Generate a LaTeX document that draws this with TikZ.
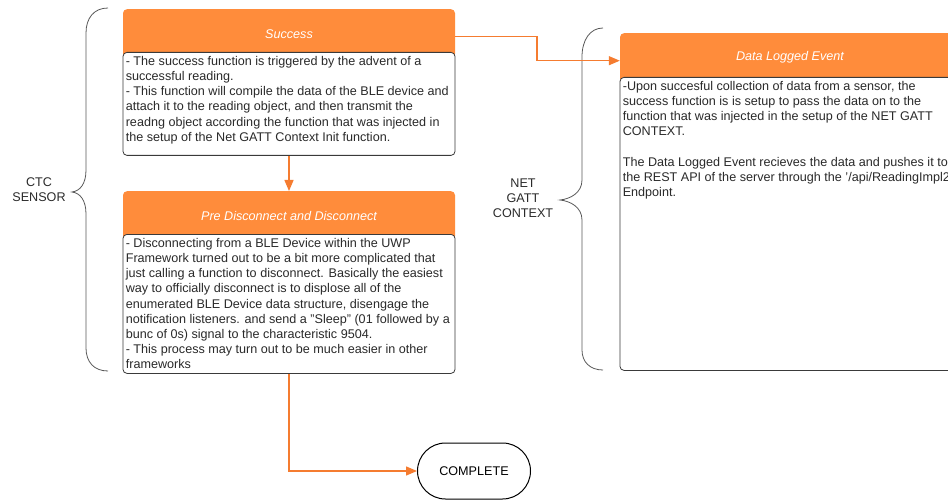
\documentclass[tikz,border=0pt]{standalone}
\usepackage{fontspec}
\setmainfont{Liberation Sans}
\usetikzlibrary{arrows.meta,positioning}
\definecolor{headorange}{HTML}{FF8C3B}
\definecolor{linkorange}{HTML}{F57C30}
\definecolor{boxgray}{HTML}{3A3A3A}
\definecolor{textgray}{HTML}{2A2A2A}
\tikzset{
	headbox/.style={fill=headorange, rounded corners=4pt, minimum width=332pt, minimum height=49pt, inner sep=0pt, text=white, font=\fontsize{12.6}{15.2}\selectfont\itshape, anchor=north},
	bodybox/.style={draw=boxgray, fill=white, line width=0.8pt, rounded corners=4pt, minimum width=332pt, inner sep=0pt, anchor=north},
	bodytext/.style={text=textgray, align=left, anchor=north west, inner xsep=3pt, inner ysep=4pt, font=\fontsize{12.6}{15.2}\selectfont},
	sidelabel/.style={text=textgray, align=center, font=\fontsize{12.6}{15}\selectfont},
	bracket/.style={draw=boxgray!85, line width=0.8pt},
	link/.style={draw=linkorange, line width=1.3pt, -{Triangle[length=11pt,width=9pt]}},
	endbox/.style={draw=black, line width=1pt, rounded corners=28pt, minimum width=113pt, minimum height=56pt, font=\fontsize{12.6}{15}\selectfont}
}

\begin{document}
\begin{tikzpicture}[x=1pt, y=-1pt]
			%%%%% START %%%%%
			\useasboundingbox (0, 0) rectangle (948, 500);
			
			% sensor side
			\node[headbox] (succhead) at (289, 9) {Success};
			\node[bodybox, minimum height=103pt] (succbody) at (289, 52) {};
			\node[bodytext] (succtext) at (succbody.north west) {- The success function is triggered by the advent of a\\successful reading.\\- This function will compile the data of the BLE device and\\attach it to the reading object, and then transmit the\\readng object according the function that was injected in\\the setup of the Net GATT Context Init function.};
			
			\node[headbox] (prehead) at (289, 191) {Pre Disconnect and Disconnect};
			\node[bodybox, minimum height=139pt] (prebody) at (289, 234) {};
			\node[bodytext] (pretext) at (prebody.north west) {- Disconnecting from a BLE Device within the UWP\\Framework turned out to be a bit more complicated that\\just calling a function to disconnect. Basically the easiest\\way to officially disconnect is to displose all of the\\enumerated BLE Device data structure, disengage the\\notification listeners. and send a {\char"22}Sleep{\char"22} (01 followed by a\\bunc of 0s) signal to the characteristic 9504.\\- This process may turn out to be much easier in other\\frameworks};
			
			\node[endbox] (done) at (474, 471) {COMPLETE};
			
			% context side
			\node[headbox, minimum width=340pt] (datahead) at (790, 33) {Data Logged Event};
			\node[bodybox, minimum width=340pt, minimum height=293pt] (databody) at (790, 77) {};
			\node[bodytext] (datatext) at (databody.north west) {-Upon succesful collection of data from a sensor, the\\success function is is setup to pass the data on to the\\function that was injected in the setup of the NET GATT\\CONTEXT.\\[15.2pt]The Data Logged Event recieves the data and pushes it to\\the REST API of the server through the {\char"27}/api/ReadingImpl2{\char"27}\\Endpoint.};
			
			% braces
			\draw[bracket] (108, 8) .. controls (94, 8) and (86, 18) .. (86, 33) -- (86, 170) .. controls (86, 184) and (80, 191) .. (72, 192) .. controls (80, 193) and (86, 200) .. (86, 214) -- (86, 348) .. controls (86, 362) and (94, 371) .. (108, 371);
			\node[sidelabel] (ctclabel) at (39, 190) {CTC\\SENSOR};
			
			\draw[bracket] (603, 28) .. controls (590, 28) and (582, 40) .. (582, 57) -- (582, 180) .. controls (582, 193) and (570, 199) .. (560, 200) .. controls (570, 201) and (582, 207) .. (582, 220) -- (582, 350) .. controls (582, 362) and (590, 370) .. (603, 370);
			\node[sidelabel] (gattlabel) at (523, 198) {NET\\GATT\\CONTEXT};
			
			% connectors
			\coordinate (elbow) at (537, 48);
			\draw[link] ([yshift=-2.5pt]succhead.east) -| (elbow) |- ([yshift=-3pt]datahead.west);
			\draw[link] (succbody.south) -- (prehead.north);
			\draw[link] (prebody.south) |- (done.west);
			
			%%%%% END %%%%%
\end{tikzpicture}
\end{document}
